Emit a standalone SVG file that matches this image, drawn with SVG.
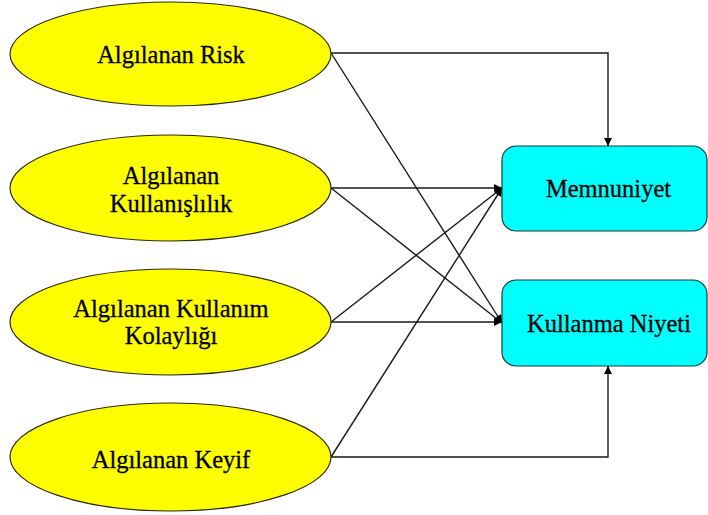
<svg xmlns="http://www.w3.org/2000/svg" width="708" height="515" viewBox="0 0 708 515">
<style>
.ell{fill:#ffff00;stroke:#2a2a10;stroke-width:1.2}
.box{fill:#00ffff;stroke:#1a3a3a;stroke-width:1.2}
.t{font-family:"Liberation Serif","Times New Roman",serif;font-size:24.5px;fill:#000;stroke:#000;stroke-width:0.3;text-anchor:middle}
.c{fill:none;stroke:#1a1a1a;stroke-width:1.4}
</style>
<defs>
<marker id="ah" viewBox="0 0 10 10" refX="10" refY="5" markerWidth="8" markerHeight="8" markerUnits="userSpaceOnUse" orient="auto">
<path d="M0,0 L10,5 L0,10 z" fill="#000"/>
</marker>
</defs>
<rect width="708" height="515" fill="#fff"/>
<g id="connectors">
<polyline class="c" points="331,53 608,53 608,146" marker-end="url(#ah)"/>
<line class="c" x1="331" y1="53" x2="502" y2="323" marker-end="url(#ah)"/>
<line class="c" x1="331" y1="188" x2="502" y2="188" marker-end="url(#ah)"/>
<line class="c" x1="331" y1="188" x2="502" y2="323" marker-end="url(#ah)"/>
<line class="c" x1="331" y1="322" x2="502" y2="188" marker-end="url(#ah)"/>
<line class="c" x1="331" y1="322" x2="502" y2="322" marker-end="url(#ah)"/>
<line class="c" x1="331" y1="457" x2="502" y2="188" marker-end="url(#ah)"/>
<polyline class="c" points="331,457 608,457 608,366" marker-end="url(#ah)"/>
</g>
<g id="risk">
<ellipse class="ell" cx="170.5" cy="54" rx="160.5" ry="52"/>
<text class="t" x="171" y="63">Algılanan Risk</text>
</g>
<g id="kullanislilik">
<ellipse class="ell" cx="170.5" cy="188" rx="160.5" ry="53"/>
<text class="t" x="171" y="184">Algılanan</text>
<text class="t" x="171" y="212">Kullanışlılık</text>
</g>
<g id="kolaylik">
<ellipse class="ell" cx="170.5" cy="322" rx="160.5" ry="53"/>
<text class="t" x="171" y="317">Algılanan Kullanım</text>
<text class="t" x="171" y="344">Kolaylığı</text>
</g>
<g id="keyif">
<ellipse class="ell" cx="170.5" cy="457" rx="160.5" ry="54"/>
<text class="t" x="171" y="468">Algılanan Keyif</text>
</g>
<g id="memnuniyet">
<rect class="box" x="502" y="146" width="205" height="85" rx="14"/>
<text class="t" x="608.5" y="197">Memnuniyet</text>
</g>
<g id="kullanma-niyeti">
<rect class="box" x="502" y="280" width="205" height="86" rx="14"/>
<text class="t" x="609" y="332">Kullanma Niyeti</text>
</g>
</svg>
